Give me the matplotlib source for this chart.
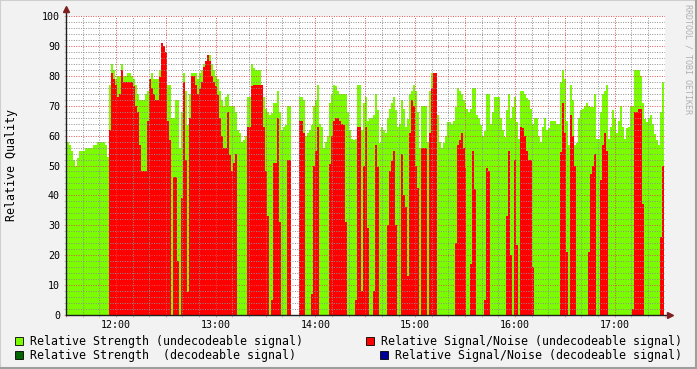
import matplotlib
matplotlib.use('Agg')
import matplotlib.pyplot as plt
from matplotlib.patches import Rectangle
import numpy as np

# one sample every 1.2 minutes, minutes counted from 12:00
start_min = -29.1
step_min = 1.2

# relative strength (undecodeable signal), green area
strength = [
    58, 56.7, 55, 52, 50, 52.5, 55, 55, 55, 56,
    56, 56, 56, 57, 57, 58, 58, 58, 58, 57,
    53, 77, 84, 82, 79, 80, 80, 84, 80, 80,
    81, 81, 80, 79, 77, 74, 72, 72, 72, 74,
    75, 79, 81, 79, 79, 79, 82, 85, 85, 85,
    77, 77, 66, 66, 72, 72, 56, 68, 81, 75,
    63.5, 74, 81, 81, 81, 79, 81, 82, 84, 85,
    87, 87, 84, 82, 80, 79, 75, 72, 70, 73,
    74, 70, 70, 70, 68, 62, 61, 58, 58.5, 60,
    73, 73, 84, 82.5, 82, 82, 82, 77, 73, 69,
    68, 67, 67.5, 71, 71, 75, 68, 62, 63, 63.5,
    70, 70, 0, 0, 0, 0, 73, 73, 72, 60,
    61, 62, 63.5, 70, 72, 77, 64, 63, 56, 58,
    60, 71, 74, 77, 76.5, 75, 74, 74, 74, 74,
    68, 62, 59, 58.5, 59, 77, 77, 62, 71, 73,
    65, 66, 66, 67, 74, 68.5, 57.5, 63, 62, 61,
    66, 69, 71, 73, 68.5, 63, 64, 72, 69, 63,
    65.5, 74, 75, 77, 75, 68, 56, 70, 70, 70,
    58, 75, 81, 81, 81, 67, 58, 56, 57.5, 60,
    64.5, 64.5, 64, 65, 69.5, 76, 75, 74, 72, 71,
    69, 68, 69, 76, 76, 67, 66, 63.5, 60, 61.5,
    74, 74, 64, 68, 73, 73, 73, 66, 62, 59.5,
    68.5, 74, 66, 69.5, 73, 64.5, 59, 75, 75, 74,
    72.5, 72, 69, 64, 66, 66, 60, 58, 63, 66,
    62, 62.5, 65, 65, 65, 64, 64, 78, 82, 79,
    65, 57, 77, 72, 57, 57.5, 66, 68.5, 69, 70,
    71, 70, 69.5, 69.5, 74, 59, 59, 68, 74, 75,
    77, 59, 63, 68.5, 66, 61, 65, 70, 63, 59,
    62.5, 63, 70, 70, 82, 82, 82, 80, 71, 65.5,
    64.5, 66, 67, 64, 60.5, 58.5, 57, 68, 78,
]

# relative signal/noise (undecodeable signal), red area
snr = [
    0, 0, 0, 0, 0, 0, 0, 0, 0, 0,
    0, 0, 0, 0, 0, 0, 0, 0, 0, 0,
    0, 62, 81, 79, 77, 73, 74, 82, 78, 78,
    78, 78, 78, 76.5, 70, 68, 57, 48, 48, 48,
    65, 79, 76, 74, 72, 72, 79.5, 91, 90, 88,
    65, 58.5, 0, 46, 46, 18, 0, 39, 78, 52,
    7.7, 66, 80, 80, 77, 74, 75.5, 78, 83, 85,
    87, 85, 80, 78, 76.5, 73.5, 66, 60, 56, 56,
    68, 53.5, 48, 51, 54, 0, 0, 0, 0, 0,
    63, 63, 76.5, 77, 77, 77, 77, 77, 63, 48,
    33, 0, 5, 51, 51, 66, 31, 0, 0, 0,
    52, 52, 0, 0, 0, 0, 65, 65, 61, 0,
    0, 0, 7, 50, 55, 63, 0, 0, 0, 0,
    0, 50.5, 60, 65, 66, 66, 65, 64, 63.5, 31,
    0, 0, 0, 0, 5, 63, 63, 8, 50, 63,
    29, 0, 0, 8, 57, 49.5, 0, 0, 0, 0,
    30, 48, 51.5, 55, 30, 0, 0, 54, 40, 36,
    13, 61, 72, 70, 50, 42.5, 0, 56, 56, 56,
    0, 61, 76, 81, 81, 0, 0, 0, 0, 0,
    0, 0, 0, 0, 24, 57, 58.5, 61, 56, 49,
    0, 0, 17, 55, 42, 0, 0, 0, 0, 5,
    49, 48, 0, 0, 0, 0, 0, 0, 0, 0,
    33, 55, 20, 0, 52, 23.5, 0, 63, 62.5, 60,
    55, 52, 52, 16, 0, 0, 0, 0, 0, 0,
    0, 0, 0, 0, 0, 0, 0, 54.5, 71, 61,
    21, 0, 67, 60, 50, 0, 0, 0, 0, 0,
    0, 21, 47, 50, 54, 0, 0, 45, 57, 61,
    55, 0, 0, 0, 0, 0, 0, 0, 0, 0,
    0, 0, 0, 2, 68, 68, 69, 69, 37, 0,
    0, 0, 0, 0, 0, 0, 0, 26, 50,
]

hour_ticks = [0, 60, 120, 180, 240, 300]
hour_labels = ['12:00', '13:00', '14:00', '15:00', '16:00', '17:00']

legend_labels = ['Relative Strength (undecodeable signal)',
                 'Relative Signal/Noise (undecodeable signal)',
                 'Relative Strength  (decodeable signal)',
                 'Relative Signal/Noise (decodeable signal)']
legend_colors = ['#7CFC00', '#FF0000', '#006400', '#000099']

W, H = 697, 369
mono = 'DejaVu Sans Mono'
grid_col = (0.56, 0.56, 0.56, 0.25)
mgrid_col = (0.87, 0.31, 0.31, 0.4)
axis_col = '#1f1f1f'
arrow_col = '#801f1f'

times = start_min + step_min * np.arange(len(strength))

fig = plt.figure(figsize=(W / 100, H / 100), dpi=100, facecolor='#F2F2F2')
ax = fig.add_axes([66 / W, 54 / H, 599 / W, 299 / H])
ax.set_facecolor('white')

ax.bar(times, strength, width=step_min, align='edge', color='#7CFC00',
       linewidth=0, antialiased=False, zorder=1)
ax.bar(times, snr, width=step_min, align='edge', color='#FF0000',
       linewidth=0, antialiased=False, zorder=1.1)

ax.set_xlim(start_min, start_min + 599 * 0.6)
ax.set_ylim(0, 100)

# grid: minor every 10 min / 2 units, major every 30 min / 10 units
half_hours = np.arange(-30, 331, 30)
ax.set_xticks(half_hours)
ax.set_xticklabels([hour_labels[hour_ticks.index(t)] if t in hour_ticks else ''
                    for t in half_hours])
ax.set_xticks(np.arange(-30, 331, 10), minor=True)
ax.set_yticks(np.arange(0, 101, 10))
ax.set_yticks(np.arange(0, 101, 2), minor=True)
ax.set_axisbelow(False)
ax.grid(True, which='minor', color=grid_col, linestyle=(0, (1, 1.5)), linewidth=0.7)
ax.grid(True, which='major', color=mgrid_col, linestyle=(0, (1, 1.5)), linewidth=0.7)

for s in ax.spines.values():
    s.set_visible(False)
ax.tick_params(which='both', length=1.5, width=0.6, color=(0.56, 0.56, 0.56, 0.6),
               labelsize=7.2, labelcolor='black')
ax.tick_params(axis='y', which='major', pad=2.8, color=(0.87, 0.31, 0.31, 0.6))
ax.tick_params(axis='x', which='major', pad=2.2, color=(0.87, 0.31, 0.31, 0.6))
for lab in ax.get_xticklabels() + ax.get_yticklabels():
    lab.set_family(mono)

# axis lines with arrows
ax.plot([0, 0], [0, (315 - 9) / 299], transform=ax.transAxes, color=axis_col,
        lw=1, clip_on=False, zorder=5)
ax.plot([0, (670 - 66) / 599], [0, 0], transform=ax.transAxes, color=axis_col,
        lw=1, clip_on=False, zorder=5)
ax.plot([0], [(315 - 9) / 299], transform=ax.transAxes, marker='^', ms=5,
        color=arrow_col, clip_on=False, zorder=6)
ax.plot([(670 - 66) / 599], [0], transform=ax.transAxes, marker='>', ms=5,
        color=arrow_col, clip_on=False, zorder=6)

fig.text(12 / W, 1 - 165 / H, 'Relative Quality', rotation=90, ha='center',
         va='center', fontsize=8.4, family=mono)
fig.text(688 / W, 1 - 59 / H, 'RRDTOOL / TOBI OETIKER', rotation=270,
         ha='center', va='center', fontsize=6, family=mono, color='#b0b0b0')

# legend
legend_pos = [(15, 341), (366, 341), (15, 355), (380, 355)]
for (px, py), lab, col in zip(legend_pos, legend_labels, legend_colors):
    fig.add_artist(Rectangle((px / W, 1 - (py + 4) / H), 8 / W, 8 / H,
                             transform=fig.transFigure, facecolor=col,
                             edgecolor='black', linewidth=0.6))
    fig.text((px + 15) / W, 1 - py / H, lab, ha='left', va='center',
             fontsize=8.4, family=mono)

# image border shading
fig.add_artist(Rectangle((0, 0), 1, 1, transform=fig.transFigure, fill=False,
                         edgecolor='#CFCFCF', linewidth=1.5))
fig.add_artist(plt.Line2D([1 - 1 / W, 1 - 1 / W], [0, 1], transform=fig.transFigure,
                          color='#9E9E9E', lw=1.5))
fig.add_artist(plt.Line2D([0, 1], [1 / H, 1 / H], transform=fig.transFigure,
                          color='#9E9E9E', lw=1.5))

fig.savefig('out.png', dpi=100, facecolor=fig.get_facecolor())
